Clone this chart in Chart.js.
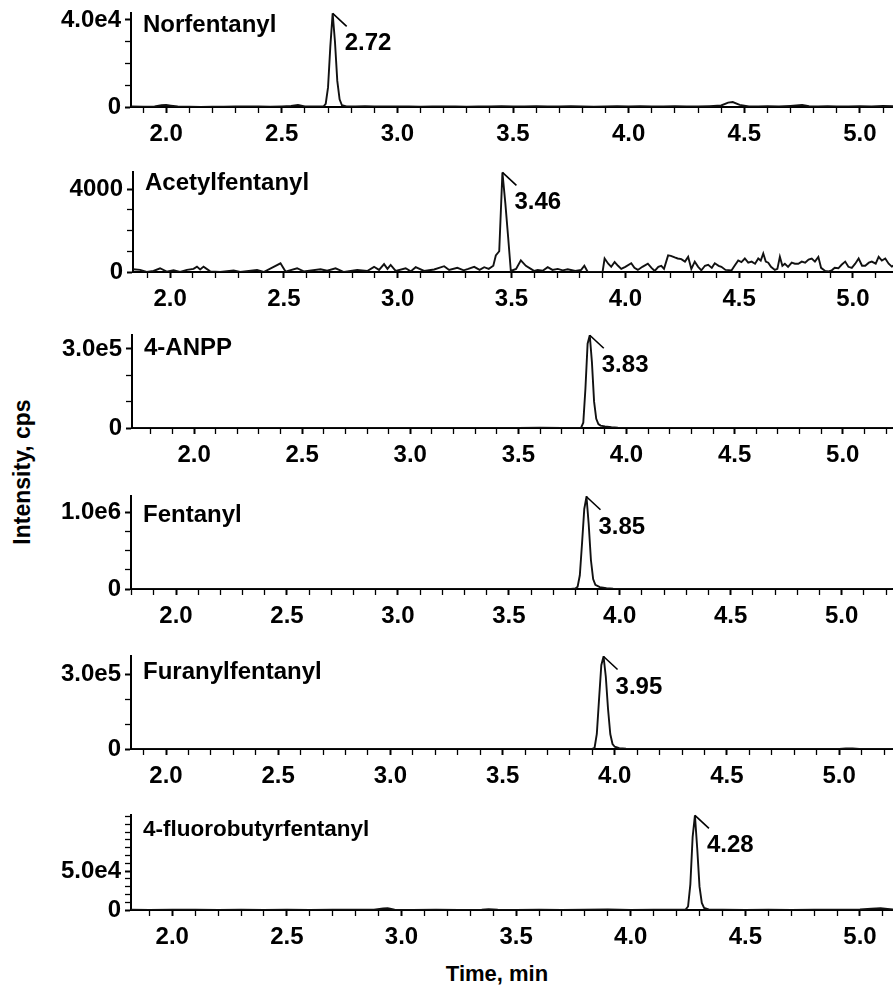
<!DOCTYPE html>
<html>
<head>
<meta charset="utf-8">
<script src="https://cdn.jsdelivr.net/npm/chart.js@4.4.0/dist/chart.umd.min.js"></script>
<style>
  body { margin: 0; background: #fff; width: 893px; height: 992px; position: relative; overflow: hidden; }
  .panel { position: absolute; left: 0; }
  .panel canvas { display: block; }
  .axtitle { position: absolute; font: bold 22px 'Liberation Sans', Arial, sans-serif; white-space: nowrap; color: #000; }
  #ylab { left: 22px; top: 472px; font-size: 23px; transform: translate(-50%, -50%) rotate(-90deg); }
  #xlab { left: 497px; top: 974px; transform: translate(-50%, -50%); }
</style>
</head>
<body>
<div class="axtitle" id="ylab">Intensity, cps</div>
<div class="axtitle" id="xlab">Time, min</div>
<script>
const FONT = "'Liberation Sans', Arial, sans-serif"

// compound names and the labelled top tick of each y axis
const names = ['Norfentanyl', 'Acetylfentanyl', '4-ANPP', 'Fentanyl', 'Furanylfentanyl', '4-fluorobutyrfentanyl']
const yTopLabels = ['4.0e4', '4000', '3.0e5', '1.0e6', '3.0e5', '5.0e4']
const yTopValues = [40000, 4000, 300000, 1000000, 300000, 50000]
const yMinorSteps = [10000, 1000, 100000, 250000, 100000, 10000]

// traces (time in min, intensity in cps)
const norTime = [1.85, 1.90, 1.95, 1.98, 2.00, 2.02, 2.05, 2.10, 2.15, 2.20,
  2.25, 2.30, 2.35, 2.40, 2.45, 2.50, 2.54, 2.57, 2.60, 2.64,
  2.68, 2.69, 2.70, 2.71, 2.72, 2.73, 2.74, 2.75, 2.76, 2.78,
  2.82, 2.86, 2.90, 2.95, 3.00, 3.05, 3.10, 3.15, 3.20, 3.25,
  3.30, 3.35, 3.40, 3.45, 3.50, 3.55, 3.60, 3.65, 3.70, 3.75,
  3.80, 3.85, 3.90, 3.95, 4.00, 4.05, 4.10, 4.15, 4.20, 4.25,
  4.30, 4.35, 4.40, 4.43, 4.45, 4.48, 4.52, 4.56, 4.60, 4.65,
  4.70, 4.75, 4.78, 4.82, 4.86, 4.90, 4.95, 5.00, 5.05, 5.10, 5.15]
const norInt = [200, 100, 300, 800, 900, 600, 200, 100, 0, 150,
  100, 300, 200, 300, 100, 300, 500, 900, 300, 200,
  200, 1500, 9000, 28000, 43000, 30000, 12000, 3500, 800, 300,
  200, 400, 200, 300, 200, 300, 100, 300, 200, 300,
  100, 300, 200, 400, 200, 300, 400, 200, 300, 400,
  200, 100, 300, 400, 200, 400, 300, 200, 400, 300,
  200, 400, 700, 2000, 2300, 1000, 300, 200, 400, 200,
  500, 900, 400, 200, 400, 300, 200, 400, 300, 500, 300]

const acetTime = [1.838, 1.868, 1.897, 1.927, 1.956, 1.985, 2.015, 2.044, 2.074, 2.103,
  2.118, 2.132, 2.147, 2.176, 2.220, 2.279, 2.308, 2.382, 2.411, 2.485,
  2.507, 2.558, 2.587, 2.661, 2.690, 2.727, 2.764, 2.822, 2.866, 2.896,
  2.918, 2.940, 2.955, 2.969, 2.991, 3.035, 3.057, 3.079, 3.116, 3.160,
  3.204, 3.226, 3.262, 3.290, 3.310, 3.336, 3.360, 3.380, 3.400, 3.420,
  3.431, 3.446, 3.460, 3.473, 3.485, 3.497, 3.520, 3.541, 3.563, 3.585,
  3.600, 3.615, 3.637, 3.659, 3.680, 3.703, 3.725, 3.747, 3.780, 3.806,
  3.820, 3.835, 3.900, 3.909, 3.925, 3.938, 3.953, 3.968, 3.982, 4.000,
  4.026, 4.040, 4.055, 4.075, 4.099, 4.115, 4.129, 4.145, 4.158, 4.170,
  4.188, 4.200, 4.217, 4.230, 4.246, 4.262, 4.276, 4.290, 4.305, 4.320,
  4.334, 4.350, 4.364, 4.380, 4.393, 4.410, 4.422, 4.440, 4.467, 4.480,
  4.496, 4.510, 4.525, 4.540, 4.555, 4.570, 4.584, 4.595, 4.606, 4.617,
  4.628, 4.640, 4.657, 4.668, 4.679, 4.690, 4.701, 4.715, 4.731, 4.745,
  4.760, 4.775, 4.790, 4.805, 4.819, 4.833, 4.848, 4.860, 4.878, 4.893,
  4.907, 4.920, 4.936, 4.950, 4.966, 4.980, 4.995, 5.010, 5.025, 5.040,
  5.054, 5.070, 5.083, 5.100, 5.113, 5.127, 5.142, 5.157, 5.171, 5.185]
const acetInt = [130, 100, 0, 50, 180, 20, 80, 0, 100, 150,
  260, 120, 260, 30, 0, 80, 0, 100, 0, 420,
  20, 180, 30, 130, 60, 180, 0, 100, 50, 250,
  100, 380, 150, 340, 50, 180, 30, 230, 50, 120,
  280, 100, 200, 80, 150, 250, 100, 230, 150, 300,
  800, 1000, 4800, 3300, 1700, 50, 150, 560, 300, 150,
  50, 100, 60, 230, 100, 150, 80, 130, 50, 100,
  300, 0, 0, 650, 400, 250, 480, 300, 150, 250,
  420, 200, 100, 250, 400, 200, 50, 250, 300, 150,
  800, 780, 700, 650, 620, 500, 730, 150, 500, 250,
  80, 300, 350, 200, 420, 300, 250, 100, 80, 300,
  560, 480, 650, 450, 500, 400, 650, 550, 890, 500,
  450, 250, 100, 150, 730, 300, 400, 250, 450, 400,
  400, 500, 450, 600, 650, 500, 730, 200, 50, 30,
  80, 200, 180, 350, 500, 250, 200, 400, 650, 300,
  300, 450, 500, 400, 730, 550, 650, 400, 260, 350]

const anppTime = [1.72, 1.80, 1.90, 2.00, 2.10, 2.20, 2.30, 2.40, 2.50, 2.60,
  2.70, 2.80, 2.90, 3.00, 3.10, 3.20, 3.30, 3.40, 3.50, 3.60,
  3.70, 3.76, 3.79, 3.80, 3.81, 3.82, 3.83, 3.84, 3.85, 3.86,
  3.87, 3.88, 3.90, 3.93, 3.96, 3.99, 4.05, 4.10, 4.20, 4.30,
  4.40, 4.50, 4.60, 4.70, 4.80, 4.90, 5.00, 5.10, 5.24]
const anppInt = [0, 500, 0, 400, 0, 300, 0, 500, 0, 300,
  0, 400, 0, 300, 0, 500, 0, 300, 0, 800,
  300, 500, 1500, 20000, 150000, 320000, 352000, 250000, 100000, 35000,
  15000, 9000, 6000, 3000, 1200, 400, 0, 300, 0, 400,
  0, 300, 0, 400, 0, 300, 0, 400, 0]

const fenTime = [1.80, 1.90, 2.00, 2.10, 2.20, 2.30, 2.40, 2.50, 2.60, 2.70,
  2.80, 2.90, 3.00, 3.10, 3.20, 3.30, 3.40, 3.50, 3.60, 3.70,
  3.78, 3.80, 3.81, 3.82, 3.83, 3.84, 3.85, 3.86, 3.87, 3.88,
  3.89, 3.91, 3.94, 3.97, 4.00, 4.10, 4.20, 4.30, 4.40, 4.50,
  4.60, 4.70, 4.80, 4.90, 5.00, 5.10, 5.23]
const fenInt = [0, 1500, 0, 1000, 0, 1500, 0, 1000, 0, 1500,
  0, 1000, 0, 1500, 0, 1000, 0, 1500, 0, 1000,
  2000, 8000, 30000, 180000, 600000, 1050000, 1210000, 850000, 380000, 130000,
  55000, 25000, 12000, 5000, 2000, 0, 1000, 0, 1500, 0,
  1000, 0, 1500, 0, 1000, 0, 0]

const furTime = [1.85, 1.95, 2.05, 2.15, 2.25, 2.35, 2.45, 2.55, 2.65, 2.75,
  2.85, 2.95, 3.05, 3.15, 3.25, 3.35, 3.45, 3.55, 3.65, 3.75,
  3.85, 3.90, 3.91, 3.92, 3.93, 3.94, 3.95, 3.96, 3.97, 3.98,
  3.99, 4.00, 4.02, 4.05, 4.10, 4.20, 4.30, 4.40, 4.50, 4.60,
  4.70, 4.80, 4.90, 5.00, 5.03, 5.06, 5.09, 5.15, 5.24]
const furInt = [0, 400, 0, 300, 0, 500, 0, 300, 0, 400,
  0, 300, 0, 500, 0, 300, 0, 400, 0, 300,
  0, 500, 5000, 60000, 200000, 335000, 370000, 290000, 160000, 60000,
  20000, 9000, 3000, 800, 0, 400, 0, 300, 0, 400,
  0, 300, 0, 500, 2500, 2500, 500, 0, 300]

const fbTime = [1.82, 1.90, 2.00, 2.10, 2.20, 2.30, 2.40, 2.50, 2.60, 2.70,
  2.80, 2.88, 2.92, 2.94, 2.97, 3.05, 3.15, 3.25, 3.35, 3.38,
  3.42, 3.50, 3.60, 3.70, 3.80, 3.90, 4.00, 4.10, 4.20, 4.24,
  4.25, 4.26, 4.27, 4.28, 4.29, 4.30, 4.31, 4.32, 4.34, 4.40,
  4.50, 4.60, 4.70, 4.80, 4.90, 5.00, 5.05, 5.09, 5.12, 5.15]
const fbInt = [400, 0, 300, 400, 0, 300, 0, 400, 0, 300,
  400, 300, 2000, 2200, 300, 0, 400, 0, 400, 1100,
  300, 0, 400, 0, 300, 600, 0, 400, 300, 800,
  4500, 33000, 94000, 121500, 79000, 30000, 9000, 2700, 800, 400,
  0, 400, 0, 300, 400, 600, 1800, 2200, 1500, 700]

const traces = [[norTime, norInt], [acetTime, acetInt], [anppTime, anppInt],
  [fenTime, fenInt], [furTime, furInt], [fbTime, fbInt]]

// layout of each panel (pixels) and the visible axis ranges
const layout = [
  { left: 131, top: 13, bottom: 107, xMin: 1.848, xMax: 5.143, yMax: 43200, nameDy: 19, nameSize: 24 },
  { left: 133, top: 172, bottom: 272, xMin: 1.837, xMax: 5.176, yMax: 4820, nameDy: 18, nameSize: 24 },
  { left: 132, top: 335, bottom: 428, xMin: 1.713, xMax: 5.231, yMax: 353000, nameDy: 20, nameSize: 24 },
  { left: 131, top: 496, bottom: 589, xMin: 1.797, xMax: 5.230, yMax: 1220000, nameDy: 26, nameSize: 24 },
  { left: 131, top: 656, bottom: 749, xMin: 1.844, xMax: 5.240, yMax: 372000, nameDy: 23, nameSize: 24 },
  { left: 131, top: 815, bottom: 910, xMin: 1.820, xMax: 5.144, yMax: 122000, nameDy: 21, nameSize: 22.5 }
]

const tickFont = { family: FONT, size: 24, weight: 'bold' }
const isMajorX = (v) => Math.abs(v * 2 - Math.round(v * 2)) < 1e-6

// panel name + peak apex marker with retention time
const panelText = {
  id: 'panelText',
  afterDatasetsDraw(chart, args, opts) {
    const { ctx, chartArea, scales } = chart
    const pts = chart.data.datasets[0].data
    const apex = pts.reduce((a, b) => (b.y > a.y ? b : a))
    const px = scales.x.getPixelForValue(apex.x)
    const py = Math.max(scales.y.getPixelForValue(apex.y), chartArea.top)
    ctx.save()
    ctx.strokeStyle = '#000'
    ctx.lineWidth = 1.6
    ctx.beginPath()
    ctx.moveTo(px, py)
    ctx.lineTo(px + 14, py + 13)
    ctx.stroke()
    ctx.fillStyle = '#000'
    ctx.textBaseline = 'alphabetic'
    ctx.font = `bold 24px ${FONT}`
    ctx.fillText(apex.x.toFixed(2), px + 12, py + 37)
    ctx.font = `bold ${opts.size}px ${FONT}`
    ctx.fillText(opts.name, chartArea.left + 12, chartArea.top + opts.nameDy)
    ctx.restore()
  }
}

const PAD_TOP = 22
const AXIS_H = 45

layout.forEach((p, i) => {
  const [t, v] = traces[i]
  const h = (p.bottom - p.top) + PAD_TOP + AXIS_H
  const div = document.createElement('div')
  div.className = 'panel'
  div.style.top = (p.top - PAD_TOP) + 'px'
  const canvas = document.createElement('canvas')
  canvas.width = 893
  canvas.height = h
  div.appendChild(canvas)
  document.body.appendChild(div)

  const major = yTopValues[i]
  const minor = yMinorSteps[i]

  new Chart(canvas, {
    type: 'line',
    data: {
      datasets: [{
        data: t.map((x, k) => ({ x, y: v[k] })),
        borderColor: '#111',
        borderWidth: 1.9,
        pointRadius: 0,
        tension: 0,
        fill: false
      }]
    },
    options: {
      responsive: false,
      animation: false,
      layout: { padding: { top: PAD_TOP, right: 0, left: 0, bottom: 0 } },
      scales: {
        x: {
          type: 'linear',
          min: p.xMin,
          max: p.xMax,
          afterFit: (s) => { s.height = AXIS_H },
          afterBuildTicks: (s) => {
            const out = []
            for (let k = Math.ceil(p.xMin * 10); k <= Math.floor(p.xMax * 10); k++) out.push({ value: k / 10 })
            s.ticks = out
          },
          grid: {
            drawOnChartArea: false,
            drawTicks: true,
            tickLength: 6,
            tickColor: '#000',
            tickWidth: (c) => (c.tick && isMajorX(c.tick.value) ? 2 : 1.3)
          },
          border: { display: true, color: '#000', width: 2 },
          ticks: {
            autoSkip: false,
            maxRotation: 0,
            padding: 7,
            color: '#000',
            font: tickFont,
            callback: (val) => isMajorX(val) ? val.toFixed(1) : ''
          }
        },
        y: {
          min: 0,
          max: p.yMax,
          afterFit: (s) => { s.width = p.left },
          afterBuildTicks: (s) => {
            const out = []
            for (let k = 0; k * minor <= p.yMax; k++) out.push({ value: k * minor })
            s.ticks = out
          },
          grid: {
            drawOnChartArea: false,
            drawTicks: true,
            tickLength: 6,
            tickColor: '#000',
            tickWidth: (c) => (c.tick && (c.tick.value === 0 || c.tick.value === major) ? 2 : 1.3)
          },
          border: { display: true, color: '#000', width: 2 },
          ticks: {
            autoSkip: false,
            padding: 4,
            color: '#000',
            font: tickFont,
            callback: (val) => val === 0 ? '0' : (val === major ? yTopLabels[i] : '')
          }
        }
      },
      plugins: {
        legend: { display: false },
        tooltip: { enabled: false },
        panelText: { name: names[i], nameDy: p.nameDy, size: p.nameSize }
      }
    },
    plugins: [panelText]
  })
})
</script>
</body>
</html>
